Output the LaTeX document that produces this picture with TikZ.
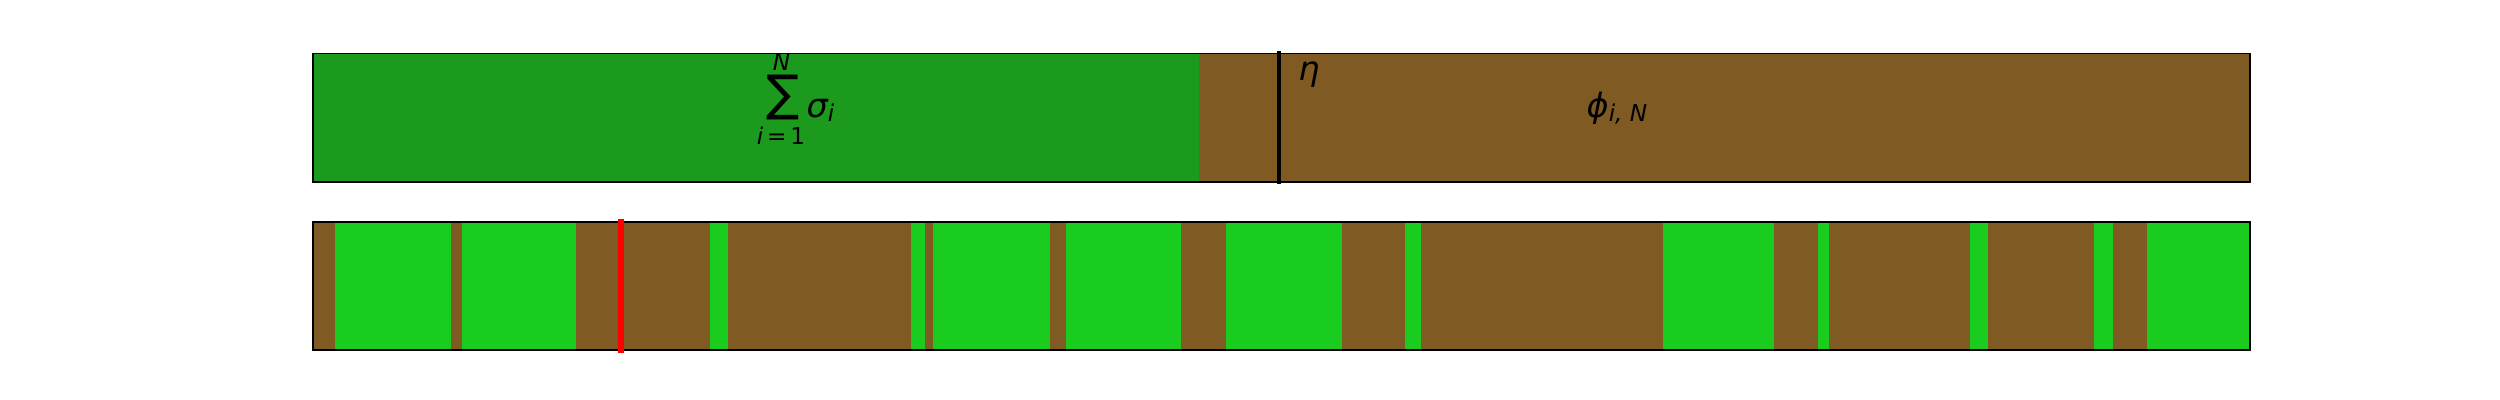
\documentclass[tikz,border=0pt]{standalone}
\usepackage{fontspec}
\setmainfont{DejaVu Sans}
\definecolor{soil}{RGB}{128,90,35}
\definecolor{darkleaf}{RGB}{28,154,29}
\definecolor{leaf}{RGB}{25,204,29}
\newcommand{\lowsub}[2]{\raisebox{-#1}{\fontsize{6.6}{8}\selectfont #2}}
\begin{document}
\begin{tikzpicture}[x=0.01cm,y=-0.01cm,
  bar/.style={draw=black,line width=0.5pt},
  mathlabel/.style={inner sep=0pt,font=\fontsize{9.5}{11}\selectfont\itshape},
  limit/.style={inner sep=0pt,font=\fontsize{6.6}{8}\selectfont}]
\useasboundingbox[fill=white] (0,0) rectangle (2500,400);
\begin{scope}
\fill[soil] (313,53.5) rectangle (2250,182);
\fill[darkleaf] (313,53.5) rectangle (1199,182);
\draw[bar] (313,53.5) rectangle (2250,182);
\draw[line width=1.4pt] (1279,51) -- (1279,184);
\end{scope}
\begin{scope}
\fill[soil] (313,222) rectangle (2250,350);
\foreach \a/\b in {335/451,462/576,710/728,911/925,933/1050,1066/1181,
  1226/1342,1405/1421,1663/1774,1818/1829,1970/1988,2094/2113,2147/2250}
  \fill[leaf] (\a,222) rectangle (\b,350);
\draw[bar] (313,222) rectangle (2250,350);
\draw[red,line width=1.5pt] (621,219) -- (621,352.5);
\end{scope}
\node[inner sep=0pt,font=\fontsize{14}{16}\selectfont] (sum) at (783,98) {∑};
\node[limit,anchor=base] (upper) at (781.5,70) {\itshape N};
\node[limit,anchor=base] (lower) at (781,144) {{\itshape i}\,=\,1};
\node[mathlabel,anchor=base west] (sigma) at (806,117.5) {σ\lowsub{1.2pt}{i}};
\node[mathlabel] (eta) at (1309,75) {η};
\node[mathlabel,anchor=base west] (phi) at (1586,117) {ϕ\lowsub{1.4pt}{i, N}};
\end{tikzpicture}
\end{document}
